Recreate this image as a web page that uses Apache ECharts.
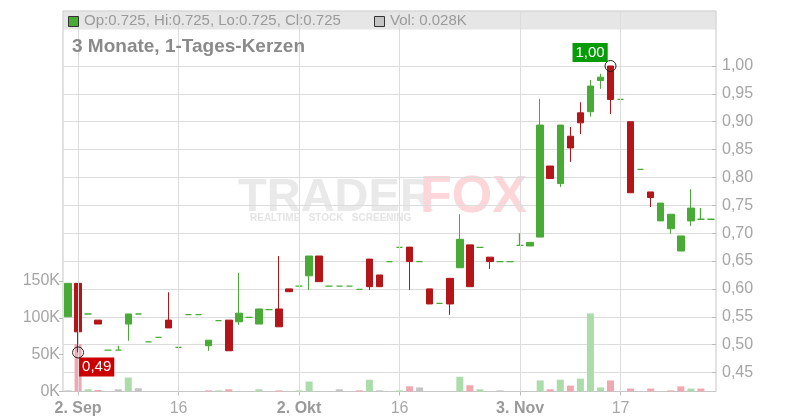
<!DOCTYPE html>
<html><head><meta charset="utf-8">
<script src="https://cdn.jsdelivr.net/npm/echarts@6/dist/echarts.min.js"></script>
<style>html,body{margin:0;padding:0;background:#fff}#c{width:800px;height:420px}</style>
</head><body><div id="c"></div>
<script>
const dates = [
 '2025-09-01','2025-09-02','2025-09-03','2025-09-04','2025-09-05','2025-09-08','2025-09-09','2025-09-10','2025-09-11','2025-09-12',
 '2025-09-15','2025-09-16','2025-09-17','2025-09-18','2025-09-19','2025-09-22','2025-09-23','2025-09-24','2025-09-25','2025-09-26',
 '2025-09-29','2025-09-30','2025-10-01','2025-10-02','2025-10-03','2025-10-06','2025-10-07','2025-10-08','2025-10-09','2025-10-10',
 '2025-10-13','2025-10-14','2025-10-15','2025-10-16','2025-10-17','2025-10-20','2025-10-21','2025-10-22','2025-10-23','2025-10-24',
 '2025-10-27','2025-10-28','2025-10-29','2025-10-30','2025-10-31','2025-11-03','2025-11-04','2025-11-05','2025-11-06','2025-11-07',
 '2025-11-10','2025-11-11','2025-11-12','2025-11-13','2025-11-14','2025-11-17','2025-11-18','2025-11-19','2025-11-20','2025-11-21',
 '2025-11-24','2025-11-25','2025-11-26','2025-11-27','2025-11-28'];
const opens = [
 0.55,0.61,0.555,0.544,0.49,0.49,0.537,0.555,0.505,0.513,
 0.544,0.495,0.554,0.554,0.498,0.543,0.544,0.541,0.549,0.537,
 0.563,0.564,0.600,0.605,0.6235,0.659,0.605,0.605,0.605,0.599,
 0.6535,0.625,0.649,0.6745,0.675,0.649,0.600,0.574,0.619,0.638,
 0.679,0.6745,0.657,0.649,0.649,0.678,0.677,0.693,0.8205,0.789,
 0.874,0.916,0.918,0.974,1.00,0.94,0.90,0.8145,0.774,0.722,
 0.708,0.668,0.722,0.725,0.725];
const closes = [
 0.61,0.523,0.555,0.537,0.49,0.49,0.555,0.555,0.505,0.513,
 0.530,0.495,0.554,0.554,0.508,0.543,0.489,0.5565,0.549,0.564,
 0.563,0.532,0.595,0.605,0.659,0.613,0.605,0.605,0.605,0.599,
 0.604,0.604,0.649,0.6745,0.649,0.649,0.573,0.574,0.573,0.689,
 0.604,0.6745,0.649,0.649,0.649,0.678,0.6835,0.894,0.798,0.894,
 0.853,0.898,0.964,0.980,0.94,0.94,0.7725,0.8145,0.764,0.754,
 0.734,0.695,0.745,0.725,0.725];
const lows = [
 0.55,0.486,0.555,0.537,0.49,0.49,0.507,0.555,0.505,0.513,
 0.530,0.495,0.554,0.554,0.489,0.543,0.489,0.535,0.549,0.537,
 0.563,0.532,0.595,0.605,0.598,0.613,0.605,0.605,0.605,0.599,
 0.598,0.604,0.649,0.6745,0.598,0.649,0.573,0.574,0.5535,0.638,
 0.604,0.6745,0.636,0.649,0.649,0.678,0.677,0.693,0.798,0.783,
 0.828,0.878,0.909,0.959,0.914,0.94,0.7725,0.8145,0.747,0.722,
 0.699,0.668,0.713,0.725,0.725];
const highs = [
 0.61,0.61,0.555,0.544,0.49,0.498,0.555,0.555,0.505,0.513,
 0.594,0.495,0.554,0.554,0.508,0.543,0.544,0.629,0.549,0.564,
 0.563,0.659,0.600,0.605,0.659,0.659,0.605,0.605,0.605,0.599,
 0.6535,0.625,0.649,0.6745,0.675,0.649,0.600,0.574,0.619,0.734,
 0.679,0.6745,0.657,0.649,0.649,0.700,0.6835,0.941,0.8205,0.894,
 0.8905,0.935,0.975,0.986,1.00,0.94,0.90,0.8145,0.774,0.754,
 0.734,0.695,0.779,0.745,0.725];
const volumes = [
 1.5,64.5,3,2,0,3,19,4.5,0,0,
 0,0,0,0,1.5,1.5,3,0,0,3,
 0,1.5,0,1.5,13.5,0,0,3,0,1.5,
 16,1.5,0,1.5,7,5.5,0,0,0,20,
 8.5,3,0,1.5,0,0,0,15,3,16,
 8,17.5,106,5.5,15,0,4,0,4,0,
 1.5,7,4,4,0.028];
const tickDates = ['2025-09-02','2025-09-16','2025-10-02','2025-10-16','2025-11-03','2025-11-17'];
const tickLabels = ['2. Sep','16','2. Okt','16','3. Nov','17'];
const tickBold = [true,false,true,false,true,false];

const UP = '#47ab35', DOWN = '#b31518';
const V_UP = '#acdcaa', V_DOWN = '#f0a7af', V_FLAT = '#c4c4c4';
const L = 63, R = 84, TOP = 11, BOT = 28.5;

const candleData = dates.map((d, i) => {
  const item = { value: [opens[i], closes[i], lows[i], highs[i]] };
  if (opens[i] === closes[i]) item.itemStyle = { color: UP, color0: UP, borderColor: UP, borderColor0: UP, borderColorDoji: UP, borderWidth: 1.3 };
  return item;
});
const volData = volumes.map((v, i) => {
  let c = V_FLAT;
  if (i > 0 && closes[i] > closes[i - 1]) c = V_UP;
  else if (i > 0 && closes[i] < closes[i - 1]) c = V_DOWN;
  return { value: v, itemStyle: { color: c } };
});
let iLow = 0, iHigh = 0;
lows.forEach((v, i) => { if (v < lows[iLow]) iLow = i; });
highs.forEach((v, i) => { if (v > highs[iHigh]) iHigh = i; });
const comma = v => v.toFixed(2).replace('.', ',');
const last = dates.length - 1;
const f3 = v => v.toFixed(3);
const legendText = 'Op:' + f3(opens[last]) + ', Hi:' + f3(highs[last]) + ', Lo:' + f3(lows[last]) + ', Cl:' + f3(closes[last]);
const volText = 'Vol: ' + volumes[last].toFixed(3) + 'K';
const isTick = (idx) => tickDates.indexOf(dates[idx]) >= 0;

const chart = echarts.init(document.getElementById('c'), null, { renderer: 'canvas' });
const option = {
  animation: false,
  textStyle: { fontFamily: 'Liberation Sans, Arial, sans-serif' },
  graphic: [
    { type: 'rect', z: -5, shape: { x: L + 0.5, y: TOP + 0.5, width: 800 - L - R - 1, height: 18 }, style: { fill: '#e6e6e6' } },
    { type: 'text', z: -4, left: 238, top: 175, style: { text: 'TRADER', font: 'bold 47px Liberation Sans, Arial', fill: '#e9e9e9' } },
    { type: 'text', z: -4, left: 420, top: 172, style: { text: 'FOX', font: 'bold 52px Liberation Sans, Arial', fill: '#fcd6d9' } },
    { type: 'text', z: -4, left: 250, top: 213, style: { text: 'REALTIME   STOCK   SCREENING', font: 'bold 10px Liberation Sans, Arial', fill: '#e4e4e4' } },
    { type: 'rect', z: 10, shape: { x: 68.5, y: 16.5, width: 10, height: 10 }, style: { fill: UP, stroke: '#333', lineWidth: 1 } },
    { type: 'text', z: 10, left: 84, top: 13, style: { text: legendText, font: '15px Liberation Sans, Arial', fill: '#9a9a9a' } },
    { type: 'rect', z: 10, shape: { x: 374.5, y: 16.5, width: 10, height: 10 }, style: { fill: '#c4c4c4', stroke: '#333', lineWidth: 1 } },
    { type: 'text', z: 10, left: 390, top: 13, style: { text: volText, font: '15px Liberation Sans, Arial', fill: '#9a9a9a' } },
    { type: 'text', z: 10, left: 72, top: 37, style: { text: '3 Monate, 1-Tages-Kerzen', font: 'bold 19px Liberation Sans, Arial', fill: '#8a8a8a' } }
  ],
  grid: [
    { left: L, right: R, top: TOP, bottom: BOT, show: true, borderColor: '#c6c6c6', borderWidth: 1, backgroundColor: 'transparent' },
    { left: L, right: R, top: 66, bottom: 47.5 },
    { left: L, right: R, top: 281, bottom: BOT }
  ],
  xAxis: [
    { type: 'category', gridIndex: 0, data: dates, boundaryGap: true,
      axisLine: { show: false },
      axisTick: { show: true, alignWithLabel: true, length: 4, interval: (i) => isTick(i), lineStyle: { color: '#bbb' } },
      splitLine: { show: false },
      axisLabel: { interval: (i) => isTick(i), margin: 9,
        formatter: (v) => { const k = tickDates.indexOf(v); return k < 0 ? '' : (tickBold[k] ? '{b|' + tickLabels[k] + '}' : '{n|' + tickLabels[k] + '}'); },
        rich: { b: { fontSize: 16, fontWeight: 'bold', color: '#9a9a9a' }, n: { fontSize: 16, color: '#a8a8a8' } } } },
    { type: 'category', gridIndex: 1, data: dates, boundaryGap: true, show: false },
    { type: 'category', gridIndex: 2, data: dates, boundaryGap: true, show: false }
  ],
  yAxis: [
    { type: 'value', gridIndex: 0, show: false, min: 0, max: 1 },
    { type: 'value', gridIndex: 1, position: 'right', min: 0.45, max: 1.0, interval: 0.05,
      axisLine: { show: false },
      axisTick: { show: true, inside: true, length: 4, lineStyle: { color: '#bbb' } },
      axisLabel: { margin: 6, fontSize: 16, color: '#a5a5a5', formatter: comma },
      splitLine: { show: true, lineStyle: { color: '#dcdcdc', width: 1 } } },
    { type: 'value', gridIndex: 2, position: 'left', min: 0, max: 150, interval: 50,
      axisLine: { show: false },
      axisTick: { show: true, length: 4, lineStyle: { color: '#bbb' } },
      axisLabel: { margin: 3, fontSize: 16, color: '#a5a5a5', formatter: (v) => v + 'K' },
      splitLine: { show: false } }
  ],
  series: [
    { type: 'line', xAxisIndex: 0, yAxisIndex: 0, data: dates.map(() => null), z: 1, silent: true,
      markLine: { silent: true, symbol: ['none', 'none'], animation: false, label: { show: false },
        lineStyle: { color: '#dcdcdc', type: 'solid', width: 1 },
        data: tickDates.map(d => ({ xAxis: d })) } },
    { type: 'bar', xAxisIndex: 2, yAxisIndex: 2, data: volData, barWidth: 7, z: 2, silent: true },
    { type: 'candlestick', xAxisIndex: 1, yAxisIndex: 1, data: candleData, barWidth: 7, clip: false, z: 3,
      itemStyle: { color: UP, color0: DOWN, borderColor: UP, borderColor0: DOWN, borderColorDoji: UP, borderWidth: 1 },
      markPoint: { symbol: 'circle', symbolSize: 11, animation: false,
        itemStyle: { color: 'rgba(255,255,255,0)', borderColor: '#222', borderWidth: 1 },
        data: [
          { coord: [dates[iLow], lows[iLow]],
            label: { show: true, formatter: comma(lows[iLow]), position: [7, 11], align: 'left', verticalAlign: 'top',
              backgroundColor: '#cc0000', color: '#fff', fontSize: 15, lineHeight: 17, padding: [1, 3, 1, 3] } },
          { coord: [dates[iHigh], highs[iHigh]],
            label: { show: true, formatter: comma(highs[iHigh]), position: [-32, -17], align: 'left', verticalAlign: 'top',
              backgroundColor: '#079b07', color: '#fff', fontSize: 15, lineHeight: 17, padding: [1, 3, 1, 3] } }
        ] } }
  ]
};
chart.setOption(option);
</script></body></html>
